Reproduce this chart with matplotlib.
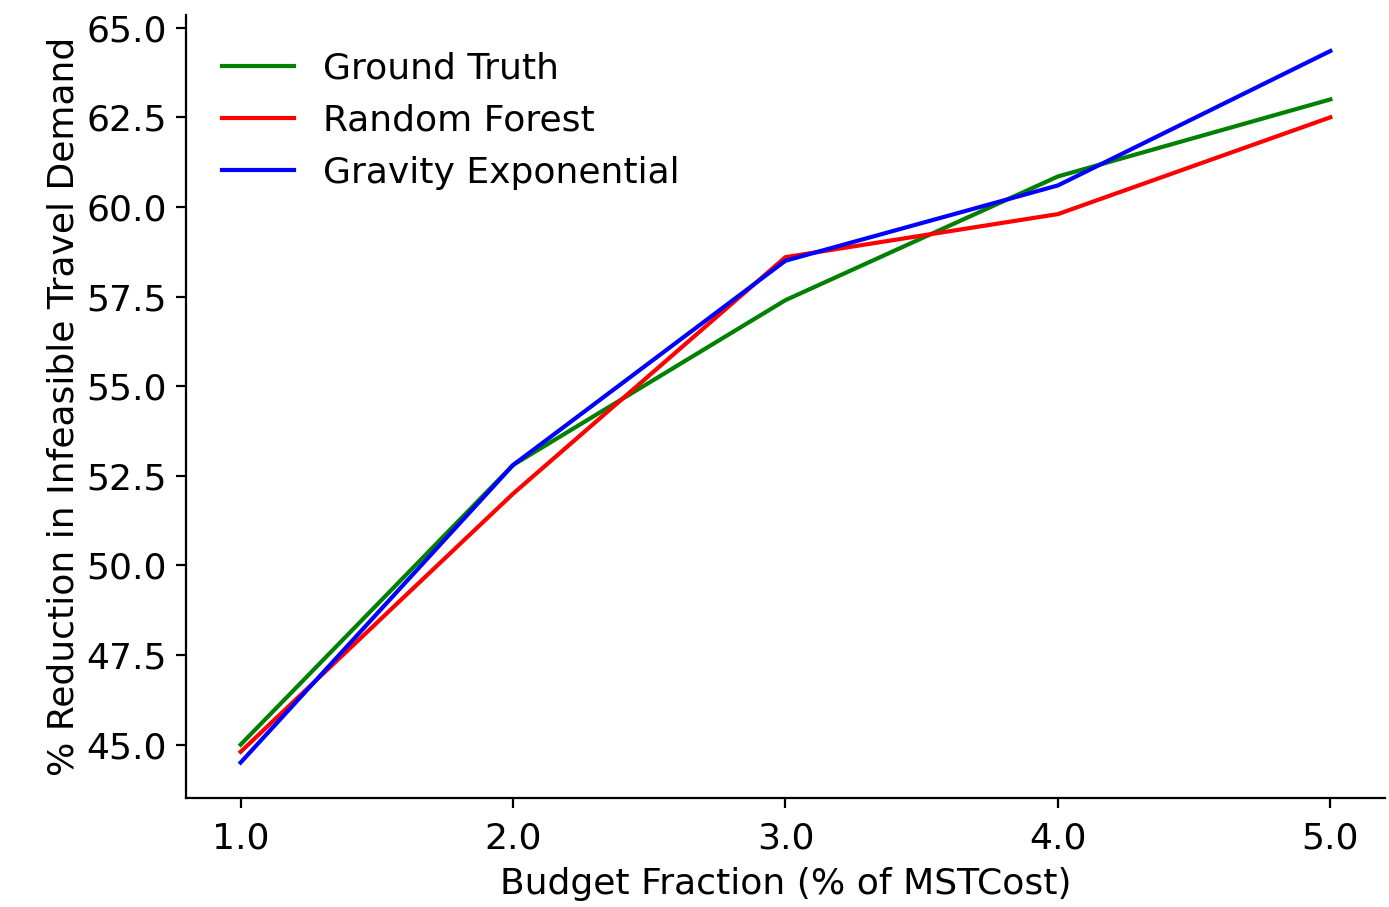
import matplotlib
matplotlib.use("Agg")
import matplotlib.pyplot as plt

# budget fraction (% of MST cost)
budget = [1.0, 2.0, 3.0, 4.0, 5.0]

# % reduction in infeasible travel demand
ground_truth = [45.0, 52.8, 57.4, 60.85, 63.0]
random_forest = [44.8, 52.0, 58.6, 59.8, 62.5]
gravity_exp = [44.5, 52.8, 58.5, 60.6, 64.35]

y_ticks = [45.0, 47.5, 50.0, 52.5, 55.0, 57.5, 60.0, 62.5, 65.0]

plt.rcParams['font.size'] = 13

fig = plt.figure(figsize=(6.945, 4.535), dpi=200)
ax = fig.add_axes([0.134, 0.120, 0.863, 0.863])

ax.plot(budget, ground_truth, color='green', lw=1.5, label='Ground Truth')
ax.plot(budget, random_forest, color='red', lw=1.5, label='Random Forest')
ax.plot(budget, gravity_exp, color='blue', lw=1.5, label='Gravity Exponential')

ax.set_xticks(budget)
ax.set_xticklabels([f"{b:.1f}" for b in budget])
ax.set_yticks(y_ticks)
ax.set_yticklabels([f"{v:.1f}" for v in y_ticks])
ax.tick_params(axis='x', pad=5)

ax.set_xlabel("Budget Fraction (% of MSTCost)", labelpad=4)
ax.set_ylabel("% Reduction in Infeasible Travel Demand", labelpad=2)

ax.spines['top'].set_visible(False)
ax.spines['right'].set_visible(False)

ax.legend(loc='upper left', frameon=False, borderaxespad=0.6)

fig.savefig("out.png", dpi=200)
